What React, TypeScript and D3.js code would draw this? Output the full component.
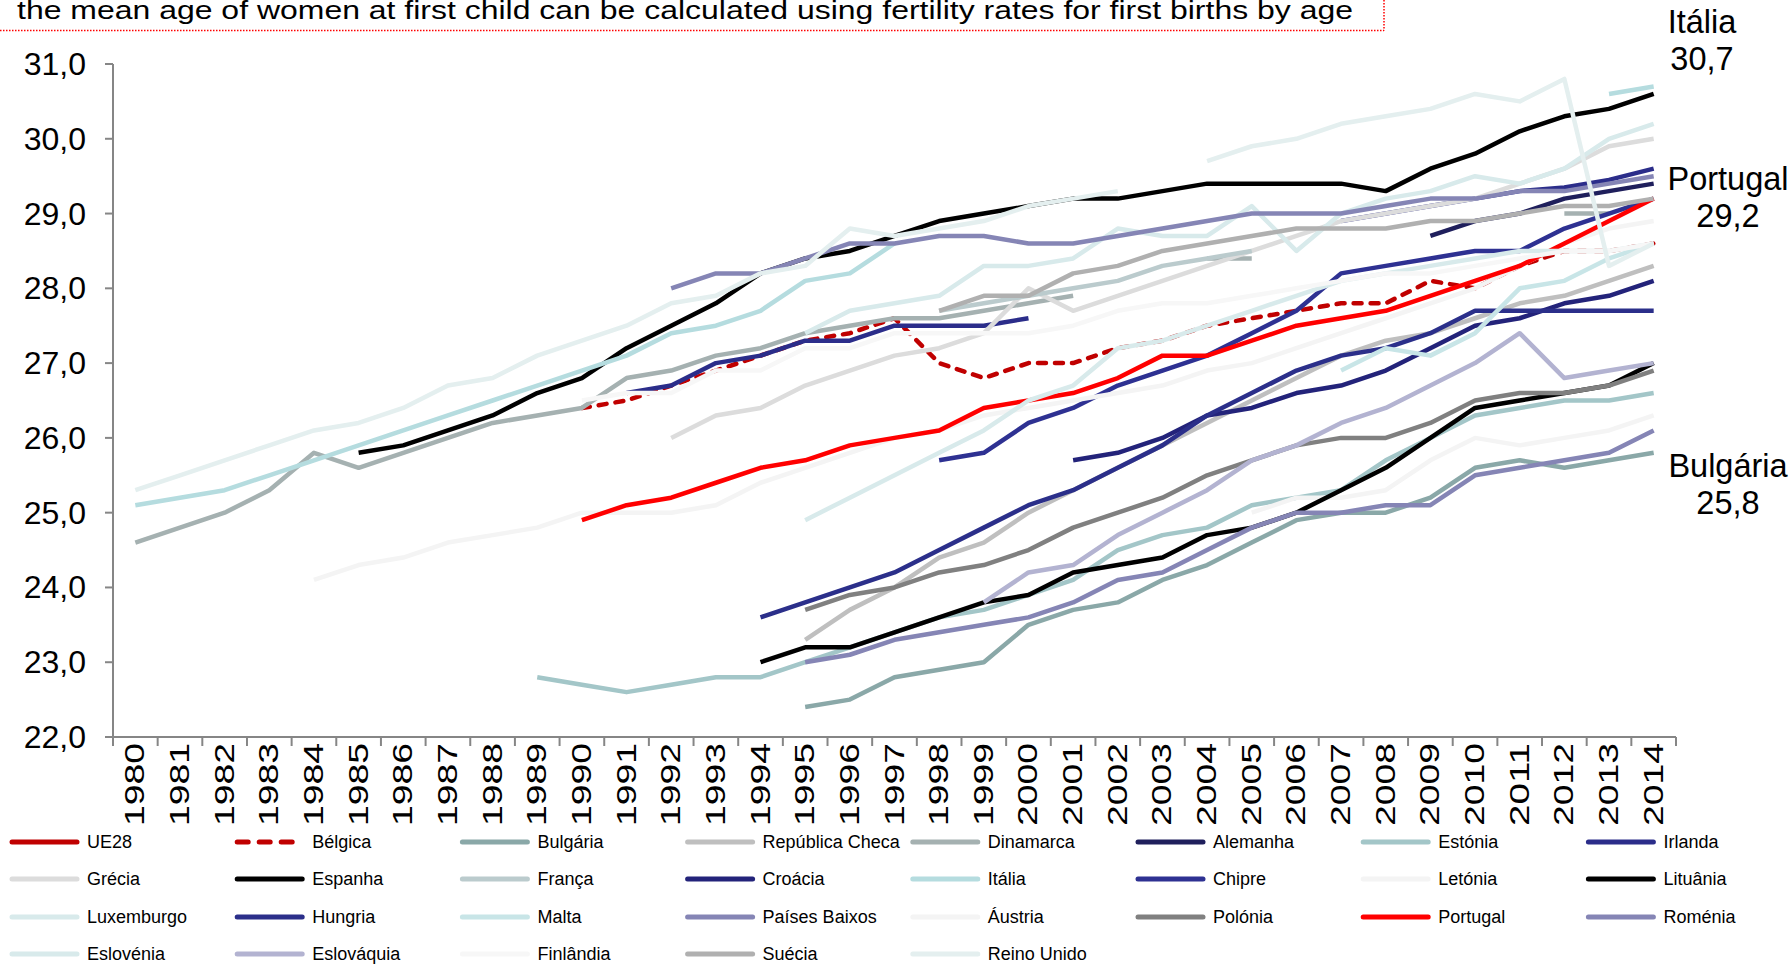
import React from "react";
import * as d3 from "d3";

const width = 1791;
const height = 964;
const font = "'Liberation Sans', Arial, sans-serif";

const _ = null;

// categories (years) and y tick labels
const years = [
  1980, 1981, 1982, 1983, 1984, 1985, 1986, 1987, 1988, 1989, 1990, 1991,
  1992, 1993, 1994, 1995, 1996, 1997, 1998, 1999, 2000, 2001, 2002, 2003,
  2004, 2005, 2006, 2007, 2008, 2009, 2010, 2011, 2012, 2013, 2014,
];
const yTicks = [22, 23, 24, 25, 26, 27, 28, 29, 30, 31];
const yTickLabels = ["22,0", "23,0", "24,0", "25,0", "26,0", "27,0", "28,0", "29,0", "30,0", "31,0"];

// each series: first year + values (null = no data)
const ue28: (number | null)[] = [];
const belgica = [26.4, 26.5, 26.7, 26.9, 27.1, 27.3, 27.4, 27.6, 27.0, 26.8, 27.0, 27.0, 27.2, 27.3, 27.5, 27.6, 27.7, 27.8, 27.8, 28.1, 28.0, 28.3, 28.5, 28.5, 28.6];
const bulgaria = [22.4, 22.5, 22.8, 22.9, 23.0, 23.5, 23.7, 23.8, 24.1, 24.3, 24.6, 24.9, 25.0, 25.0, 25.2, 25.6, 25.7, 25.6, 25.7, 25.8];
const repCheca = [23.3, 23.7, 24.0, 24.4, 24.6, 25.0, 25.3, 25.6, 25.9, 26.2, 26.5, 26.8, 27.1, 27.3, 27.4, 27.6, 27.8, 27.9, 28.1, 28.3];
const dinamarca = [24.6, 24.8, 25.0, 25.3, 25.8, 25.6, 25.8, 26.0, 26.2, 26.3, 26.4, 26.8, 26.9, 27.1, 27.2, 27.4, 27.5, 27.6, 27.6, 27.7, 27.8, 27.9, _, _, 28.4, 28.4, _, _, _, _, _, _, 29.0, 29.0];
const alemanha = [28.7, 28.9, 29.0, 29.2, 29.3, 29.4];
const estonia = [22.8, 22.7, 22.6, 22.7, 22.8, 22.8, 23.0, 23.2, 23.4, 23.6, 23.7, 23.9, 24.1, 24.5, 24.7, 24.8, 25.1, 25.2, 25.3, 25.7, 26.0, 26.3, 26.4, 26.5, 26.5, 26.6];
const irlanda = [26.6, 26.7, 27.0, 27.1, 27.3, 27.3, 27.5, 27.5, 27.5, 27.6, _, _, _, _, _, _, 28.9, 29.0, 29.1, 29.2, 29.3, 29.35, 29.45, 29.6];
const grecia = [26.0, 26.3, 26.4, 26.7, 26.9, 27.1, 27.2, 27.4, 28.0, 27.7, 27.9, 28.1, 28.3, 28.5, 28.7, 28.9, 29.0, 29.1, 29.2, 29.4, 29.6, 29.9, 30.0];
const espanha = [25.8, 25.9, 26.1, 26.3, 26.6, 26.8, 27.2, 27.5, 27.8, 28.2, 28.4, 28.5, 28.7, 28.9, 29.0, 29.1, 29.2, 29.2, 29.3, 29.4, 29.4, 29.4, 29.4, 29.3, 29.6, 29.8, 30.1, 30.3, 30.4, 30.6];
const franca = [27.7, 27.8, 27.9, 28.0, 28.1, 28.3, 28.4, 28.5];
const croacia = [25.7, 25.8, 26.0, 26.3, 26.4, 26.6, 26.7, 26.9, 27.2, 27.5, 27.6, 27.8, 27.9, 28.1];
const italia = [25.1, 25.2, 25.3, 25.5, 25.7, 25.9, 26.1, 26.3, 26.5, 26.7, 26.9, 27.1, 27.4, 27.5, 27.7, 28.1, 28.2, 28.6, _, _, _, _, _, _, _, _, _, _, _, _, _, _, _, 30.6, 30.7];
const chipre = [25.7, 25.8, 26.2, 26.4, 26.7, 26.9, 27.1, 27.4, 27.7, 28.2, 28.3, 28.4, 28.5, 28.5, 28.8, 29.0, 29.2];
const letonia = [25.0, 25.2, 25.2, 25.3, 25.7, 26.0, 25.9, 26.0, 26.1, 26.3];
const lituania = [23.0, 23.2, 23.2, 23.4, 23.6, 23.8, 23.9, 24.2, 24.3, 24.4, 24.7, 24.8, 25.0, 25.3, 25.6, 26.0, 26.4, 26.5, 26.6, 26.7, 27.0];
const luxemburgo = [27.4, 27.7, 27.8, 27.9, 28.3, 28.3, 28.4, 28.8, 28.7, 28.7, 29.1, 28.5, 29.0, 29.2, 29.3, 29.5, 29.4, 29.6, 30.0, 30.2];
const hungria = [23.6, 23.8, 24.0, 24.2, 24.5, 24.8, 25.1, 25.3, 25.6, 25.9, 26.3, 26.6, 26.9, 27.1, 27.2, 27.4, 27.7, 27.7, 27.7, 27.7, 27.7];
const malta = [26.9, 27.2, 27.1, 27.4, 28.0, 28.1, 28.4, 28.6];
const paisesBaixos = [28.0, 28.2, 28.2, 28.4, 28.6, 28.6, 28.7, 28.7, 28.6, 28.6, 28.7, 28.8, 28.9, 29.0, 29.0, 29.0, 29.1, 29.2, 29.2, 29.3, 29.3, 29.4, 29.5];
const austria = [24.1, 24.3, 24.4, 24.6, 24.7, 24.8, 25.0, 25.0, 25.0, 25.1, 25.4, 25.6, 25.8, 26.0, 26.1, 26.3, 26.4, 26.5, 26.6, 26.7, 26.9, 27.0, 27.2, 27.4, 27.6, 27.8, 28.0, 28.3, 28.6, 28.8, 28.9];
const polonia = [23.7, 23.9, 24.0, 24.2, 24.3, 24.5, 24.8, 25.0, 25.2, 25.5, 25.7, 25.9, 26.0, 26.0, 26.2, 26.5, 26.6, 26.6, 26.7, 26.9];
const portugal = [24.9, 25.1, 25.2, 25.4, 25.6, 25.7, 25.9, 26.0, 26.1, 26.4, 26.5, 26.6, 26.8, 27.1, 27.1, 27.3, 27.5, 27.6, 27.7, 27.9, 28.1, 28.3, 28.6, 28.9, 29.2];
const romenia = [23.0, 23.1, 23.3, 23.4, 23.5, 23.6, 23.8, 24.1, 24.2, 24.5, 24.8, 25.0, 25.0, 25.1, 25.1, 25.5, 25.6, 25.7, 25.8, 26.1];
const eslovenia = [24.9, 25.2, 25.5, 25.8, 26.1, 26.5, 26.7, 27.2, 27.3, 27.5, 27.7, 27.9, 28.1, 28.2, 28.3, 28.4, 28.5, 28.5, 28.5, 28.6];
const eslovaquia = [23.8, 24.2, 24.3, 24.7, 25.0, 25.3, 25.7, 25.9, 26.2, 26.4, 26.7, 27.0, 27.4, 26.8, 26.9, 27.0];
const finlandia = [26.5, 26.6, 26.6, 26.9, 26.9, 27.2, 27.2, 27.4, 27.4, 27.4, 27.4, 27.5, 27.7, 27.8, 27.8, 27.9, 28.0, 28.1, 28.2, 28.2, 28.3, 28.4, 28.5, 28.5, 28.6];
const suecia = [27.7, 27.9, 27.9, 28.2, 28.3, 28.5, 28.6, 28.7, 28.8, 28.8, 28.8, 28.9, 28.9, 29.0, 29.1, 29.1, 29.2];
const reinoUnido = [25.3, 25.5, 25.7, 25.9, 26.1, 26.2, 26.4, 26.7, 26.8, 27.1, 27.3, 27.5, 27.8, 27.9, 28.2, 28.3, 28.8, 28.7, 28.8, 28.9, 29.1, 29.2, 29.3, _, 29.7, 29.9, 30.0, 30.2, 30.3, 30.4, 30.6, 30.5, 30.8, 28.3, 28.6];

type Series = { name: string; color: string; start: number; values: (number | null)[]; dashed?: boolean };

const series: Series[] = [
  { name: "UE28", color: "#C00000", start: 2013, values: ue28 },
  { name: "Bélgica", color: "#C00000", start: 1990, values: belgica, dashed: true },
  { name: "Bulgária", color: "#8AA8A8", start: 1995, values: bulgaria },
  { name: "República Checa", color: "#BFBFBF", start: 1995, values: repCheca },
  { name: "Dinamarca", color: "#A5B1B1", start: 1980, values: dinamarca },
  { name: "Alemanha", color: "#1F1F5C", start: 2009, values: alemanha },
  { name: "Estónia", color: "#A3C6C8", start: 1989, values: estonia },
  { name: "Irlanda", color: "#2B2D8A", start: 1991, values: irlanda },
  { name: "Grécia", color: "#DCDCDC", start: 1992, values: grecia },
  { name: "Espanha", color: "#000000", start: 1985, values: espanha },
  { name: "França", color: "#BBCBCD", start: 1998, values: franca },
  { name: "Croácia", color: "#23237A", start: 2001, values: croacia },
  { name: "Itália", color: "#B5DCDF", start: 1980, values: italia },
  { name: "Chipre", color: "#2E3192", start: 1998, values: chipre },
  { name: "Letónia", color: "#F4F4F4", start: 2005, values: letonia },
  { name: "Lituânia", color: "#000000", start: 1994, values: lituania },
  { name: "Luxemburgo", color: "#D8EAEB", start: 1995, values: luxemburgo },
  { name: "Hungria", color: "#2B2F8A", start: 1994, values: hungria },
  { name: "Malta", color: "#C8E5E7", start: 2007, values: malta },
  { name: "Países Baixos", color: "#8585B5", start: 1992, values: paisesBaixos },
  { name: "Áustria", color: "#F4F4F4", start: 1984, values: austria },
  { name: "Polónia", color: "#808080", start: 1995, values: polonia },
  { name: "Portugal", color: "#FF0000", start: 1990, values: portugal },
  { name: "Roménia", color: "#8585B5", start: 1995, values: romenia },
  { name: "Eslovénia", color: "#D8EAEB", start: 1995, values: eslovenia },
  { name: "Eslováquia", color: "#B3B3D1", start: 1999, values: eslovaquia },
  { name: "Finlândia", color: "#F7F7F7", start: 1990, values: finlandia },
  { name: "Suécia", color: "#B0B0B0", start: 1998, values: suecia },
  { name: "Reino Unido", color: "#E4EFEF", start: 1980, values: reinoUnido },
];

const endLabels = [
  { name: "Itália", value: "30,7", x: 1702, y: 33 },
  { name: "Portugal", value: "29,2", x: 1728, y: 190 },
  { name: "Bulgária", value: "25,8", x: 1728, y: 477 },
];

const title =
  "the mean age of women at first child can be calculated using fertility rates for first births by age";

const plot = { left: 113, right: 1676, top: 64, bottom: 737 };

export default function App() {
  const x = d3.scalePoint<number>().domain(years).range([plot.left, plot.right]).padding(0.5);
  const y = d3.scaleLinear().domain([22, 31]).range([plot.bottom, plot.top]);
  const step = x.step();

  const toFull = (s: Series) =>
    years.map((yr) => {
      const k = yr - s.start;
      return k >= 0 && k < s.values.length ? s.values[k] : null;
    });

  const line = d3
    .line<number | null>()
    .defined((d) => d != null)
    .x((_d, i) => x(years[i]) as number)
    .y((d) => y(d as number));

  const axisColor = "#868686";

  return (
    <svg
      width={width}
      height={height}
      style={{ position: "absolute", left: 0, top: 0, background: "#fff" }}
      fontFamily={font}
    >
      <rect width={width} height={height} fill="#fff" />
      {/* title (cut at the top, as in the source) */}
      <text x={17} y={19} fontSize={25} textLength={1336} lengthAdjust="spacingAndGlyphs" fill="#000">
        {title}
      </text>
      <line x1={0} x2={1384} y1={30.5} y2={30.5} stroke="#FF0000" strokeWidth={1.5} strokeDasharray="1.5,1.5" />
      <line x1={1384} x2={1384} y1={0} y2={30.5} stroke="#FF0000" strokeWidth={1.5} strokeDasharray="1.5,1.5" />

      {/* y axis */}
      <line x1={plot.left} x2={plot.left} y1={plot.top} y2={plot.bottom} stroke={axisColor} strokeWidth={2} />
      {yTicks.map((t, i) => (
        <g key={t}>
          <line x1={plot.left - 8} x2={plot.left} y1={y(t)} y2={y(t)} stroke={axisColor} strokeWidth={2} />
          <text x={86} y={y(t)} fontSize={32} textAnchor="end" dominantBaseline="central" fill="#000">
            {yTickLabels[i]}
          </text>
        </g>
      ))}

      {/* x axis */}
      <line x1={plot.left} x2={plot.right} y1={plot.bottom} y2={plot.bottom} stroke={axisColor} strokeWidth={2} />
      {d3.range(years.length + 1).map((i) => {
        const xx = plot.left + i * step;
        return <line key={i} x1={xx} x2={xx} y1={plot.bottom} y2={plot.bottom + 9} stroke={axisColor} strokeWidth={2} />;
      })}
      {years.map((yr) => (
        <text
          key={yr}
          transform={`translate(${x(yr)},743) rotate(-90)`}
          fontSize={27}
          textAnchor="end"
          dominantBaseline="central"
          textLength={83}
          lengthAdjust="spacingAndGlyphs"
          fill="#000"
        >
          {yr}
        </text>
      ))}

      {/* lines */}
      {series.map((s) => (
        <path
          key={s.name}
          d={line(toFull(s)) || ""}
          fill="none"
          stroke={s.color}
          strokeWidth={4.5}
          strokeLinejoin="round"
          strokeLinecap={s.dashed ? "round" : "butt"}
          strokeDasharray={s.dashed ? "8,9" : undefined}
        />
      ))}

      {/* end labels */}
      {endLabels.map((l) => (
        <g key={l.name}>
          <text x={l.x} y={l.y} fontSize={32.5} textAnchor="middle" fill="#000">
            {l.name}
          </text>
          <text x={l.x} y={l.y + 37} fontSize={32.5} textAnchor="middle" fill="#000">
            {l.value}
          </text>
        </g>
      ))}

      {/* legend */}
      {series.map((s, i) => {
        const col = i % 8;
        const row = Math.floor(i / 8);
        const lx = 10 + col * 225.2;
        const ly = [842, 879, 917, 954][row];
        return (
          <g key={s.name}>
            <line
              x1={lx + 2}
              x2={lx + 67}
              y1={ly}
              y2={ly}
              stroke={s.color}
              strokeWidth={5}
              strokeLinecap="round"
              strokeDasharray={s.dashed ? "11,11" : undefined}
            />
            <text x={lx + 77} y={ly} fontSize={18} dominantBaseline="central" fill="#000">
              {s.name}
            </text>
          </g>
        );
      })}
    </svg>
  );
}
